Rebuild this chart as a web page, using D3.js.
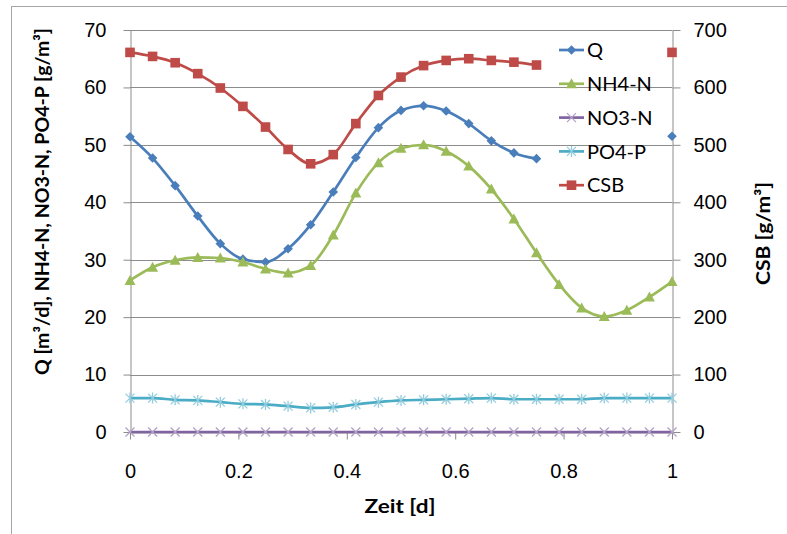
<!DOCTYPE html>
<html>
<head>
<meta charset="utf-8">
<script src="https://cdn.jsdelivr.net/npm/d3@7"></script>
<style>
  html, body { margin: 0; padding: 0; background: #fff; }
  svg { display: block; font-family: Lato, "Open Sans", sans-serif; }
</style>
</head>
<body>
<svg id="chart" width="787" height="534"></svg>
<script>
// Time axis: hourly samples over one day
const zeit = d3.range(25).map(i => i / 24);

// Left-axis series [m³/d, g/m³]
const Q = [51.4, 47.7, 42.9, 37.6, 32.8, 30.1, 29.6, 31.9, 36.1, 41.8, 47.8, 53.0,
           56.0, 56.8, 55.9, 53.7, 50.7, 48.6, 47.6, null, null, null, null, null, 51.5];
const NH4N = [26.4, 28.7, 29.9, 30.4, 30.3, 29.6, 28.4, 27.7, 29.0, 34.3, 41.6, 46.9,
              49.4, 50.0, 48.9, 46.3, 42.3, 37.1, 31.2, 25.7, 21.6, 20.1, 21.2, 23.5, 26.2];
const NO3N = [0, 0, 0, 0, 0, 0, 0, 0, 0, 0, 0, 0, 0, 0, 0, 0, 0, 0, 0, 0, 0, 0, 0, 0, 0];
const PO4P = [5.9, 5.9, 5.6, 5.5, 5.2, 4.9, 4.8, 4.5, 4.2, 4.3, 4.8, 5.2,
              5.5, 5.6, 5.7, 5.8, 5.9, 5.7, 5.7, 5.7, 5.7, 5.9, 5.9, 5.9, 5.9];
// Right-axis series [g/m³]
const CSB = [661, 654, 643, 624, 599, 567, 531, 492, 467, 483, 537, 586,
             618, 638, 647, 650, 647, 644, 639, null, null, null, null, null, 661];

const seriesNames = ["Q", "NH4-N", "NO3-N", "PO4-P", "CSB"];
const xTicks = [0, 0.2, 0.4, 0.6, 0.8, 1];
const yLeftTicks = [0, 10, 20, 30, 40, 50, 60, 70];
const yRightTicks = [0, 100, 200, 300, 400, 500, 600, 700];

const series = [
  { name: seriesNames[0], values: Q,    axis: "left",  color: "#4A7EBB", marker: "diamond" },
  { name: seriesNames[1], values: NH4N, axis: "left",  color: "#9BBB59", marker: "triangle" },
  { name: seriesNames[2], values: NO3N, axis: "left",  color: "#8064A2", marker: "x" },
  { name: seriesNames[3], values: PO4P, axis: "left",  color: "#4BACC6", marker: "star" },
  { name: seriesNames[4], values: CSB,  axis: "right", color: "#BE4B48", marker: "square" }
];

const svg = d3.select("#chart");
const plot = { left: 130, right: 672, top: 30, bottom: 432 };

const x = d3.scaleLinear().domain([0, 1]).range([plot.left, plot.right]);
const yL = d3.scaleLinear().domain([0, 70]).range([plot.bottom, plot.top]);
const yR = d3.scaleLinear().domain([0, 700]).range([plot.bottom, plot.top]);

// Chart frame
svg.append("rect")
  .attr("x", 11.5).attr("y", 6.5).attr("width", 820).attr("height", 560)
  .attr("fill", "none").attr("stroke", "#a6a6a6").attr("stroke-width", 1);

const gridColor = "#8c8c8c";
const tickFont = "20px";

// Horizontal gridlines
svg.append("g")
  .selectAll("line")
  .data(yLeftTicks.filter(v => v > 0))
  .join("line")
  .attr("x1", plot.left).attr("x2", plot.right)
  .attr("y1", d => Math.round(yL(d)) + 0.5).attr("y2", d => Math.round(yL(d)) + 0.5)
  .attr("stroke", gridColor).attr("stroke-width", 1);

// Axes
function styleAxis(g) {
  g.select(".domain").attr("stroke", gridColor);
  g.selectAll(".tick line").attr("stroke", gridColor);
  g.selectAll("text").attr("fill", "#000").style("font-size", tickFont);
}

svg.append("g")
  .attr("transform", `translate(0,${plot.bottom + 0.5})`)
  .call(d3.axisBottom(x).tickValues(xTicks).tickFormat(d3.format("~g"))
        .tickSizeInner(7).tickSizeOuter(0).tickPadding(24))
  .call(styleAxis);

svg.append("g")
  .attr("transform", `translate(${plot.left + 0.5},0)`)
  .call(d3.axisLeft(yL).tickValues(yLeftTicks).tickSizeInner(7).tickSizeOuter(0).tickPadding(17))
  .call(styleAxis);

svg.append("g")
  .attr("transform", `translate(${plot.right + 0.5},0)`)
  .call(d3.axisRight(yR).tickValues(yRightTicks).tickSizeInner(8).tickSizeOuter(0).tickPadding(13))
  .call(styleAxis);

// Axis titles
svg.append("text")
  .attr("x", 400).attr("y", 513)
  .attr("text-anchor", "middle")
  .attr("textLength", 71).attr("lengthAdjust", "spacingAndGlyphs")
  .style("font-weight", "bold").style("font-size", "19px")
  .text("Zeit [d]");

svg.append("text")
  .attr("transform", "translate(49,201.5) rotate(-90)")
  .attr("text-anchor", "middle")
  .attr("textLength", 347).attr("lengthAdjust", "spacingAndGlyphs")
  .style("font-weight", "bold").style("font-size", "19px")
  .text("Q [m³/d], NH4-N, NO3-N, PO4-P [g/m³]");

svg.append("text")
  .attr("transform", "translate(770,233.5) rotate(-90)")
  .attr("text-anchor", "middle")
  .attr("textLength", 103).attr("lengthAdjust", "spacingAndGlyphs")
  .style("font-weight", "bold").style("font-size", "19px")
  .text("CSB [g/m³]");

// Marker drawing
function drawMarker(g, type, color) {
  if (type === "diamond") {
    g.append("path").attr("d", "M0,-4.8L4.8,0L0,4.8L-4.8,0Z").attr("fill", color);
  } else if (type === "triangle") {
    g.append("path").attr("d", "M0,-5.5L5.5,4.5L-5.5,4.5Z").attr("fill", color);
  } else if (type === "square") {
    g.append("rect").attr("x", -4.8).attr("y", -4.8).attr("width", 9.6).attr("height", 9.6).attr("fill", color);
  } else if (type === "x") {
    g.append("path").attr("d", "M-4.5,-4.5L4.5,4.5M-4.5,4.5L4.5,-4.5")
      .attr("stroke", "#b3a2c7").attr("stroke-width", 1.3).attr("fill", "none");
  } else if (type === "star") {
    g.append("path").attr("d", "M-4.5,-4.5L4.5,4.5M-4.5,4.5L4.5,-4.5M0,-5.5L0,5.5")
      .attr("stroke", "#93cddd").attr("stroke-width", 1.3).attr("fill", "none");
  }
}

// Series lines and markers
series.forEach(s => {
  const yScale = s.axis === "left" ? yL : yR;
  const pts = s.values.map((v, i) => ({ t: zeit[i], v }));
  const line = d3.line()
    .defined(d => d.v !== null)
    .x(d => x(d.t)).y(d => yScale(d.v))
    .curve(d3.curveMonotoneX);
  const g = svg.append("g");
  g.append("path")
    .datum(pts)
    .attr("d", line)
    .attr("fill", "none")
    .attr("stroke", s.color)
    .attr("stroke-width", 2.7)
    .attr("stroke-linejoin", "round");
  pts.filter(d => d.v !== null).forEach(d => {
    const m = g.append("g").attr("transform", `translate(${x(d.t)},${yScale(d.v)})`);
    drawMarker(m, s.marker, s.color);
  });
});

// Legend
const legend = svg.append("g").attr("transform", "translate(559,50)");
series.forEach((s, i) => {
  const row = legend.append("g").attr("transform", `translate(0,${i * 33.8})`);
  row.append("line").attr("x1", 0).attr("x2", 25).attr("y1", 0).attr("y2", 0)
    .attr("stroke", s.color).attr("stroke-width", 2.7);
  const m = row.append("g").attr("transform", "translate(12.5,0)");
  drawMarker(m, s.marker, s.color);
  row.append("text").attr("x", 28).attr("y", 7.2)
    .style("font-size", tickFont).attr("fill", "#000")
    .text(s.name);
});
</script>
</body>
</html>
